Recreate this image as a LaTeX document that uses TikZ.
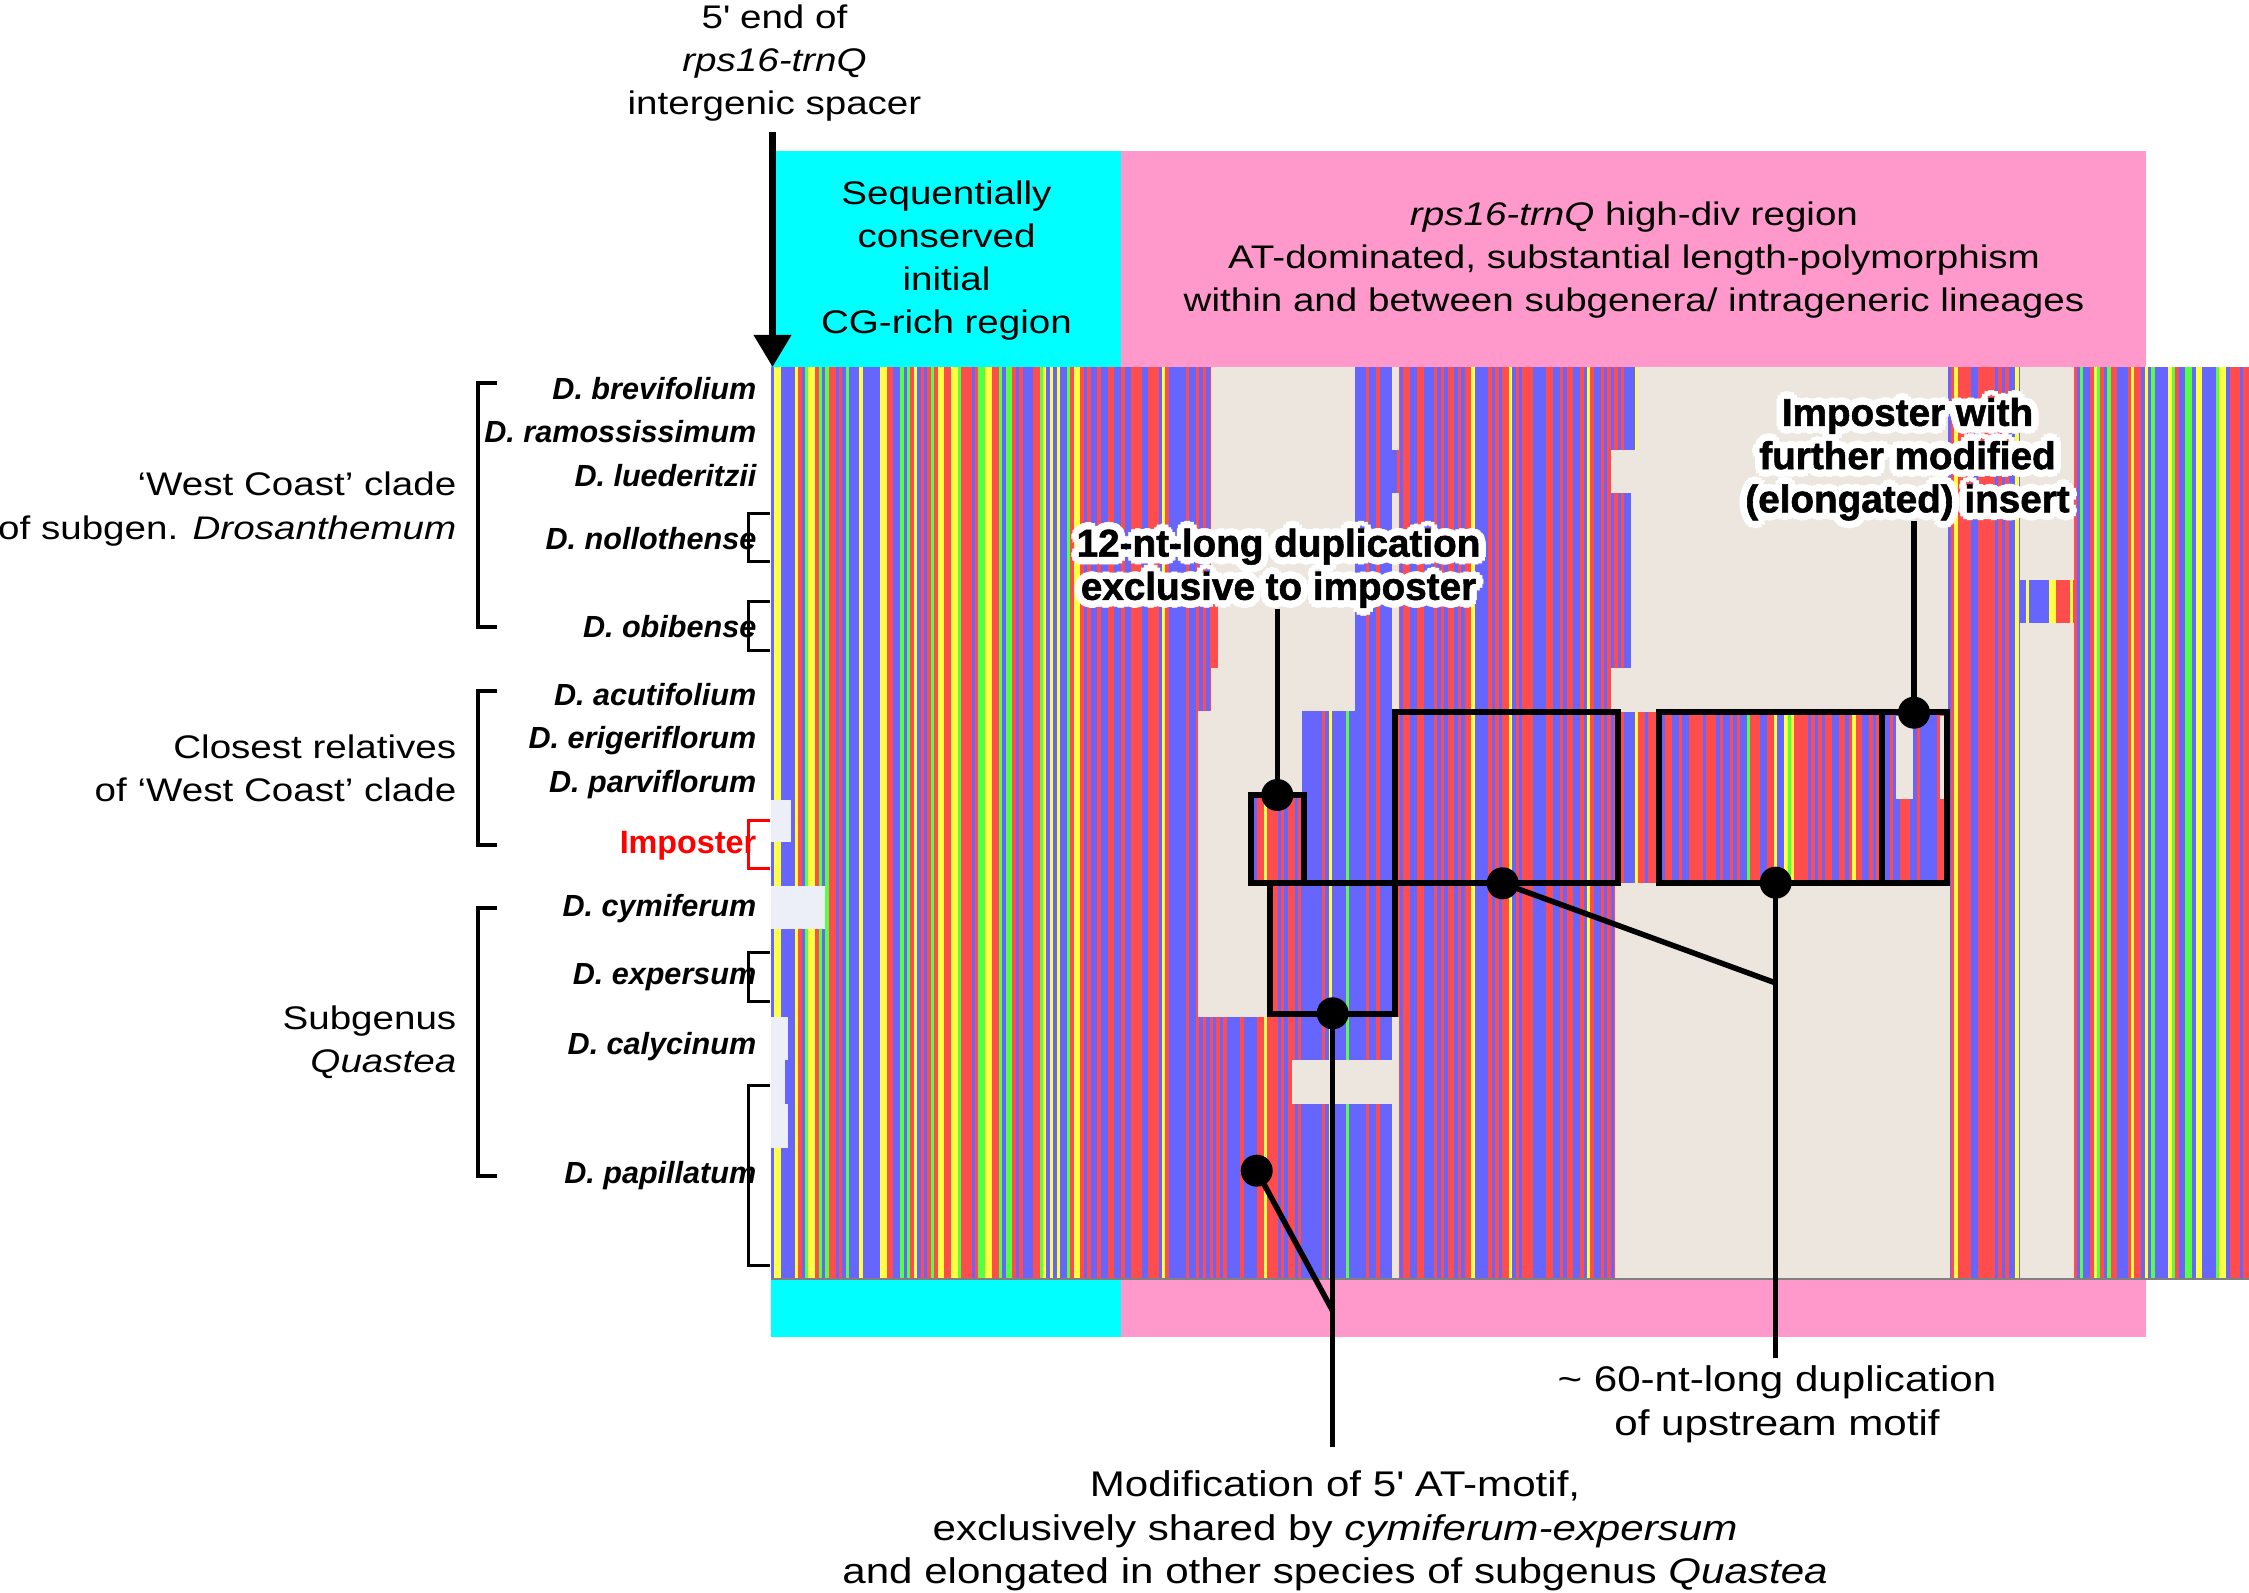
\documentclass[tikz,border=0pt]{standalone}
\usepackage{fontspec}
\setmainfont{Liberation Sans}
\newfontfamily\widefont{Liberation Sans}[FakeStretch=1.18]
\newfontfamily\calloutfont{Liberation Sans}[UprightFont={* Bold}, FakeBold=1.5]
\usetikzlibrary{arrows.meta,calc}

\definecolor{col0}{HTML}{6666FF}
\definecolor{col1}{HTML}{FF4D4D}
\definecolor{col2}{HTML}{FFFF44}
\definecolor{col3}{HTML}{55FF44}
\definecolor{gapcol}{HTML}{EDE6DF}
\definecolor{misscol}{HTML}{ECEFF8}
\definecolor{cgcol}{HTML}{00FFFF}
\definecolor{atcol}{HTML}{FF99CC}
\definecolor{rulecol}{HTML}{808080}

% white halo round a callout text
\newcommand{\halonode}[3]{%
  \foreach \ang in {0,30,...,330}
    \node[callout, text=white] at ($(#2)+(\ang:7.5)$) {#3};
  \node[callout] (#1) at (#2) {#3};
}

\begin{document}
\begin{tikzpicture}[x=0.1mm, y=-0.1mm,
  txt/.style={font=\widefont\fontsize{9.3}{12.3}\selectfont, align=center, inner sep=0pt},
  bigtxt/.style={txt, font=\widefont\fontsize{10.15}{12.3}\selectfont},
  grouplab/.style={txt, align=right, anchor=east},
  species/.style={font=\fontsize{8.7}{10}\selectfont\bfseries\itshape, anchor=base east, inner sep=0pt},
  callout/.style={font=\calloutfont\fontsize{11}{12.3}\selectfont, align=center, inner sep=0pt},
  dot/.style={circle, fill=black, inner sep=0pt, minimum size=3.2mm},
  bracket/.style={line width=0.4mm},
  subbracket/.style={line width=0.3mm},
  framebox/.style={line width=0.6mm},
  leader/.style={line width=0.55mm}]
\useasboundingbox (0,0) rectangle (2249,1593);

% alignment columns
\pgfmathsetseed{2024}
\foreach \i in {0,...,434}{
  \pgfmathsetmacro{\xa}{771+3.4*\i}
  \pgfmathsetmacro{\tb}{ifthenelse(\xa<1110,.33,ifthenelse(\xa<1440,.56,ifthenelse(\xa<1570,.45,ifthenelse(\xa<1950,.47,ifthenelse(\xa<2074,.45,.33)))))}
  \pgfmathsetmacro{\tr}{ifthenelse(\xa<1110,.60,ifthenelse(\xa<1440,.97,ifthenelse(\xa<1570,.80,ifthenelse(\xa<1950,.90,ifthenelse(\xa<2074,.85,.62)))))}
  \pgfmathsetmacro{\ty}{ifthenelse(\xa<1110,.82,ifthenelse(\xa<1440,.99,ifthenelse(\xa<1570,.88,ifthenelse(\xa<1950,.94,ifthenelse(\xa<2074,1.01,.80)))))}
  \pgfmathsetmacro{\u}{rnd}
  \pgfmathtruncatemacro{\k}{(\u>=\tb)+(\u>=\tr)+(\u>=\ty)}
  \fill[col\k] (\xa,367) rectangle ++(3.5,910.6);
}

% gaps
\fill[gapcol] (1211,367) rectangle (1355,711);
\fill[col1] (1211,584) rectangle (1218,668);
\fill[gapcol] (1198,711) rectangle (1302,795);
\fill[gapcol] (1198,795) rectangle (1248,883);
\fill[gapcol] (1198,883) rectangle (1270,1017);
\fill[gapcol] (1292,1060) rectangle (1392,1104);
\fill[gapcol] (1392,367) rectangle (1399,450);
\fill[gapcol] (1392,493) rectangle (1399,711);
\fill[gapcol] (1392,1017) rectangle (1399,1277.6);
\fill[gapcol] (1637,367) rectangle (1948,712);
\fill[gapcol] (1611,450) rectangle (1637,493);
\fill[gapcol] (1631,493) rectangle (1637,668);
\fill[gapcol] (1611,668) rectangle (1637,712);
\fill[gapcol] (1615,883) rectangle (1950,1277.6);
\fill[gapcol] (1896,716) rectangle (1913,799);
\fill[gapcol] (1940,716) rectangle (1944,799);
\fill[gapcol] (2020,367) rectangle (2074,580);
\fill[gapcol] (2020,623) rectangle (2074,1277.6);

% missing data
\fill[misscol] (771,800) rectangle (791,842);
\fill[misscol] (771,886) rectangle (825,929);
\fill[misscol] (771,1017) rectangle (785,1148);
\fill[misscol] (785,1017) rectangle (788,1060);
\fill[misscol] (785,1104) rectangle (788,1148);
\fill[rulecol] (771,1277.6) rectangle (2249,1280.5);

% region bars
\fill[cgcol] (771,151) rectangle (1121,367);
\fill[atcol] (1121,151) rectangle (2146,367);
\fill[cgcol] (771,1280.5) rectangle (1121,1337);
\fill[atcol] (1121,1280.5) rectangle (2146,1337);
\node[txt] (cgtext) at (946.5,260.7) {Sequentially\\conserved\\initial\\CG-rich region};
\node[txt] (attext) at (1634,260) {\textit{rps16-trnQ} high-div region\\AT-dominated, substantial length-polymorphism\\within and between subgenera/ intrageneric lineages};

% 5' end
\node[txt] (spacer) at (774.5,63) {5\textquotesingle{} end of\\\textit{rps16-trnQ}\\intergenic spacer};
\coordinate (alntop) at (772.5,367);
\draw[line width=0.7mm, shorten <=1mm, -{Triangle[width=3.6mm,length=3.2mm]}] (alntop |- spacer.south) -- (alntop);

% taxa
\node[species] (brev) at (757,399.3) {D. brevifolium};
\node[species] (ramo) at (757,442.7) {D. ramossissimum};
\node[species] (lued) at (757,486.7) {D. luederitzii};
\node[species] (noll) at (757,550) {D. nollothense};
\node[species] (obib) at (757,637.3) {D. obibense};
\node[species] (acut) at (757,706) {D. acutifolium};
\node[species] (erig) at (757,749) {D. erigeriflorum};
\node[species] (parv) at (757,792.7) {D. parviflorum};
\node[species, font=\fontsize{9.2}{10}\selectfont\bfseries, text=red] (impo) at (757,854) {Imposter};
\node[species] (cymi) at (757,916.7) {D. cymiferum};
\node[species] (expe) at (757,985) {D. expersum};
\node[species] (caly) at (757,1055) {D. calycinum};
\node[species] (papi) at (757,1183.3) {D. papillatum};

\draw[subbracket] (770,514) -- (748,514) -- (748,562) -- (770,562);
\draw[subbracket] (770,602) -- (748,602) -- (748,651) -- (770,651);
\draw[subbracket, red] (770,821) -- (748,821) -- (748,869) -- (770,869);
\draw[subbracket] (770,953) -- (748,953) -- (748,1002) -- (770,1002);
\draw[subbracket] (770,1086) -- (748,1086) -- (748,1266) -- (770,1266);

% clades
\node[grouplab] (westlab) at (457,509) {‘West Coast’ clade\\of subgen. \textit{Drosanthemum}};
\node[grouplab] (closelab) at (457,768.7) {Closest relatives\\of ‘West Coast’ clade};
\node[grouplab] (quastlab) at (457,1042) {Subgenus\\\textit{Quastea}};
\draw[bracket] (497,383) -- (478,383) -- (478,627) -- (497,627);
\draw[bracket] (497,691) -- (478,691) -- (478,845) -- (497,845);
\draw[bracket] (497,908) -- (478,908) -- (478,1176) -- (497,1176);

% motif frames
\draw[framebox] (1251,795.5) rectangle (1303.7,883);
\draw[framebox] (1395,712.3) rectangle (1618,883);
\draw[framebox] (1270,883) rectangle (1395,1013.7);
\draw[framebox] (1659,712) rectangle (1947,883);
\draw[framebox] (1881.5,712) -- (1881.5,883);

% callouts
\node[dot] (d12) at (1277.3,795) {};
\node[dot] (dimp) at (1914,712.7) {};
\node[dot] (dbox) at (1502.7,883.3) {};
\node[dot] (d60) at (1775.7,882.7) {};
\node[dot] (dat) at (1332.7,1013.3) {};
\node[dot] (dpap) at (1256.7,1170.7) {};
\coordinate (atjoin) at (1332.7,1311);
\coordinate (atend) at (1332.7,1446.7);
\coordinate (dupjoin) at (1775.7,983);
\coordinate (dupend) at (1775.7,1358.3);
\draw[leader] (dat.center) -- (atend);
\draw[leader] (dpap.center) -- (atjoin);
\draw[leader] (d60.center) -- (dupend);
\draw[leader] (dbox.center) -- (dupjoin);

\halonode{lab12}{1278.5,568.2}{12-nt-long duplication\\exclusive to imposter}
\halonode{labimp}{1907.5,459.2}{Imposter with\\further modified\\(elongated) insert}
\draw[leader] (d12 |- lab12.south) -- (d12.center);
\draw[leader] (dimp |- labimp.south) -- (dimp.center);

\node[bigtxt] (duplab) at (1777,1404.3) {\textasciitilde{} 60-nt-long duplication\\of upstream motif};
\node[bigtxt] (modlab) at (1335,1531) {Modification of 5\textquotesingle{} AT-motif,\\exclusively shared by \textit{cymiferum-expersum}\\and elongated in other species of subgenus \textit{Quastea}};
\end{tikzpicture}
\end{document}
